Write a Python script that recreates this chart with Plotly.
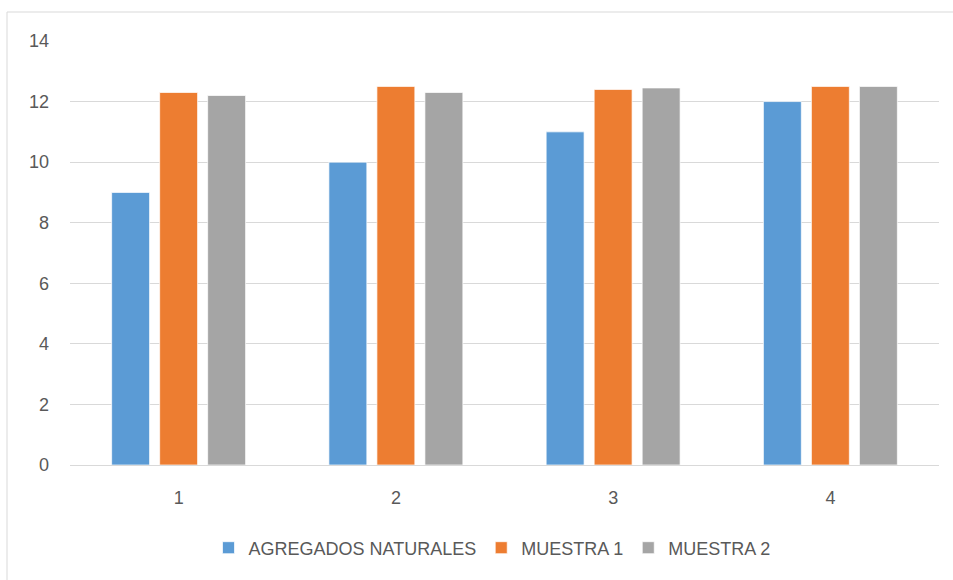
import plotly.graph_objects as go

categories = ["1", "2", "3", "4"]
agregados = [9.0, 10.0, 11.0, 12.0]
muestra1 = [12.3, 12.5, 12.4, 12.5]
muestra2 = [12.2, 12.3, 12.45, 12.5]
series_names = ["AGREGADOS NATURALES", "MUESTRA 1", "MUESTRA 2"]
colors = ["#5B9BD5", "#ED7D31", "#A5A5A5"]
y_ticks = [0, 2, 4, 6, 8, 10, 12, 14]

FONT = "Liberation Sans Narrow, Arial Narrow, Liberation Sans, Arial, sans-serif"

fig = go.Figure()
for name, vals, col in zip(series_names, [agregados, muestra1, muestra2], colors):
    fig.add_trace(go.Bar(
        x=categories, y=vals, name=name,
        marker=dict(color=col, line=dict(color="rgba(255,255,255,0.7)", width=1)),
    ))

L, R, T, B = 70, 14, 41, 115
W, H = 953, 580
pw = W - L - R
ph = H - T - B

fig.update_layout(
    width=W, height=H,
    margin=dict(l=L, r=R, t=T, b=B),
    paper_bgcolor="white", plot_bgcolor="white",
    barmode="group", bargap=0.337, bargroupgap=0.21,
    font=dict(family=FONT, size=18, color="#595959"),
    showlegend=True,
    legend=dict(orientation="h", x=(492 - L) / pw, xanchor="center",
                y=(T + ph - 548) / ph, yanchor="middle",
                font=dict(family=FONT, size=18, color="#595959"),
                itemwidth=30, traceorder="normal"),
    xaxis=dict(showgrid=False, showline=True, linecolor="#d9d9d9", linewidth=1,
               ticks="", ticklabelstandoff=16, tickfont=dict(size=18)),
    yaxis=dict(range=[0, 14], tickvals=y_ticks, showgrid=True, gridcolor="#d9d9d9",
               gridwidth=1, zeroline=False, showline=False, ticks="",
               ticklabelstandoff=20, tickfont=dict(size=18)),
    shapes=[dict(type="rect", xref="paper", yref="paper",
                 x0=(7 - L) / pw, x1=(W + 10 - L) / pw,
                 y0=(T + ph - (H + 10)) / ph, y1=(T + ph - 12) / ph,
                 line=dict(color="#d9d9d9", width=1), fillcolor="rgba(0,0,0,0)",
                 layer="below")],
)

fig.write_html("out.html")
